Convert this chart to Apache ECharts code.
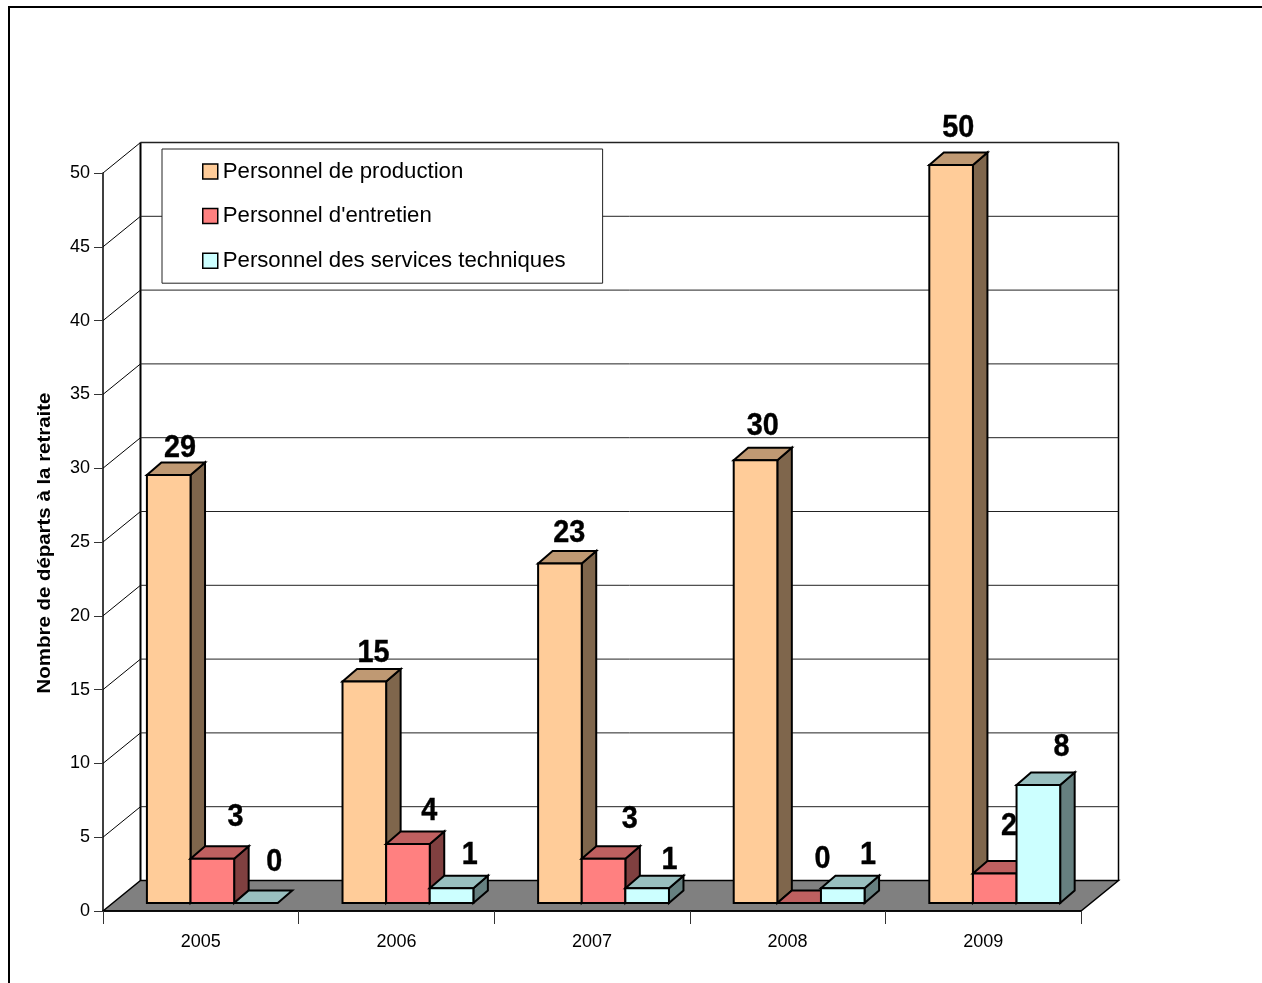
<!DOCTYPE html>
<html><head><meta charset="utf-8">
<style>html,body{margin:0;padding:0;background:#fff}#c{width:1262px;height:983px}</style>
<script src="https://cdn.jsdelivr.net/npm/echarts@6/dist/echarts.min.js"></script>
</head><body><div id="c"></div>
<script>
const categories = ['2005','2006','2007','2008','2009'];
const production = [29,15,23,30,50];
const entretien = [3,4,3,0,2];
const techniques = [0,1,1,1,8];
const yTicks = [0,5,10,15,20,25,30,35,40,45,50];
const seriesNames = ['Personnel de production',"Personnel d'entretien",'Personnel des services techniques'];
const axisTitle = 'Nombre de départs à la retraite';

// styling / layout constants
const FONT = '"Liberation Sans", Arial, sans-serif';
const WALL = [37.5, -30.5];      // depth of the chart box
const FLOOR_INSET = [10, -8];    // where bars stand on the floor
const BAR_DEPTH = [14.5, -12.5];
const PALETTE = [
  {front:'#FFCC99', top:'#BF9973', side:'#7F664C'},
  {front:'#FF8080', top:'#BF6060', side:'#804040'},
  {front:'#CCFFFF', top:'#99BFBF', side:'#668080'}
];
const LABEL_NUDGE = [
  [[4,-17],[2,-18],[2,-20],[0,-24],[0,-27]],
  [[16,-32],[14,-23],[19,-30],[16,-34],[7,-37]],
  [[11,-31],[11,-23],[15,-18],[18,-23],[16,-28]]
];
const LABEL_SHIFT_Y = 2.5;

function poly(points, fill, stroke, lw){
  return {type:'polygon', shape:{points}, style:{fill, stroke:stroke||'#000', lineWidth:lw||2, lineJoin:'miter'}};
}
function line(a,b,stroke,lw){
  return {type:'line', shape:{x1:a[0],y1:a[1],x2:b[0],y2:b[1]}, style:{stroke:stroke||'#000',lineWidth:lw||1}};
}

function barRenderer(s){
  return function(params, api){
    const i = api.value(0), v = api.value(1);
    const band = api.size([1,0])[0];
    const w = band*0.223;
    const base = api.coord([i,0]), topP = api.coord([i,v]);
    const bandLeft = base[0]-band/2;
    const x0 = bandLeft + band*0.2245 + s*w, x1 = x0+w;
    const yb = base[1]+FLOOR_INSET[1], yt = topP[1]+FLOOR_INSET[1];
    const dx = BAR_DEPTH[0], dy = BAR_DEPTH[1];
    const c = PALETTE[s];
    const kids = [];
    if (v>0) {
      kids.push(poly([[x1,yb],[x1+dx,yb+dy],[x1+dx,yt+dy],[x1,yt]], c.side));
    }
    kids.push(poly([[x0,yt],[x1,yt],[x1+dx,yt+dy],[x0+dx,yt+dy]], c.top));
    kids.push(poly([[x0,yb],[x1,yb],[x1,yt],[x0,yt]], c.front));
    const n = LABEL_NUDGE[s][i];
    kids.push({type:'text', x:x0+w/2+dx/2+n[0], y:yt+dy+n[1]+LABEL_SHIFT_Y, scaleX:0.9,
      style:{text:String(v), fill:'#000', font:'bold 32px '+FONT, align:'center', verticalAlign:'middle', stroke:'#000', lineWidth:0.4}});
    return {type:'group', children:kids};
  };
}

function boxRenderer(params, api){
  const v = api.value(0);
  const band = api.size([1,0])[0];
  const xl = api.coord([0,v])[0]-band/2;
  const xr = xl+band*categories.length;
  const y = api.coord([0,v])[1];
  const dx = WALL[0], dy = WALL[1];
  const kids = [];
  if (v===yTicks[0]) {
    const yTop = api.coord([0,yTicks[yTicks.length-1]])[1];
    kids.push(poly([[xl,y],[xl+dx,y+dy],[xr+dx,y+dy],[xr,y]], '#808080','#000',1.5));
    kids.push(line([xl+dx,y+dy],[xl+dx,yTop+dy],'#000',2));
    kids.push(line([xr+dx,y+dy],[xr+dx,yTop+dy],'#000',1.5));
  } else {
    kids.push(line([xl,y],[xl+dx,y+dy],'#000',1));
    kids.push(line([xl+dx,y+dy],[xr+dx,y+dy],'#222',v===yTicks[yTicks.length-1]?1.6:1));
  }
  return {type:'group', children:kids};
}

const chart = echarts.init(document.getElementById('c'), null, {renderer:'canvas'});
const seriesData = [production, entretien, techniques];
chart.setOption({
  animation:false,
  backgroundColor:'#fff',
  textStyle:{fontFamily:FONT},
  grid:{left:103, top:173, width:978, height:738},
  xAxis:{type:'category', data:categories, z:6,
    axisLine:{lineStyle:{color:'#000',width:1.5}},
    axisTick:{show:true, alignWithLabel:false, length:13, lineStyle:{color:'#333',width:1}},
    axisLabel:{color:'#000', fontSize:18, fontFamily:FONT, margin:22},
    splitLine:{show:false}},
  yAxis:{type:'value', min:0, max:50, interval:5, z:6,
    axisLine:{show:true, lineStyle:{color:'#000',width:1.5}},
    axisTick:{show:true, length:9, lineStyle:{color:'#333',width:1}},
    axisLabel:{color:'#000', fontSize:18, fontFamily:FONT, margin:13, padding:[3,0,0,0]},
    splitLine:{show:false}},
  legend:{
    orient:'vertical', left:162, top:149, icon:'rect',
    itemWidth:15, itemHeight:15, itemGap:22.6,
    padding:[11.5,37,11.5,40],
    backgroundColor:'#fff', borderColor:'#222', borderWidth:1,
    selectedMode:false,
    textStyle:{color:'#000', fontSize:22.2, fontFamily:FONT},
    data:seriesNames.map((n,s)=>({name:n, itemStyle:{color:PALETTE[s].front, borderColor:'#000', borderWidth:1.5}}))
  },
  graphic:[
    {type:'polyline', silent:true, shape:{points:[[9,983],[9,7],[1262,7]]}, style:{fill:null, stroke:'#000', lineWidth:2}},
    {type:'text', silent:true, x:45, y:543, rotation:Math.PI/2, scaleX:1.167,
     style:{text:axisTitle, fill:'#000', font:'bold 17.5px '+FONT, align:'center', verticalAlign:'middle'}}
  ],
  series:[
    {type:'custom', name:'box', silent:true, z:1, coordinateSystem:'cartesian2d',
     encode:{x:1,y:0}, data:yTicks.map(t=>[t,0]), renderItem:boxRenderer, clip:false},
    ...seriesNames.map((n,s)=>({
      type:'custom', name:n, silent:true, z:3+s, coordinateSystem:'cartesian2d', clip:false,
      itemStyle:{color:PALETTE[s].front},
      encode:{x:0,y:1}, data:seriesData[s].map((v,i)=>[i,v]), renderItem:barRenderer(s)
    }))
  ]
});
</script></body></html>
